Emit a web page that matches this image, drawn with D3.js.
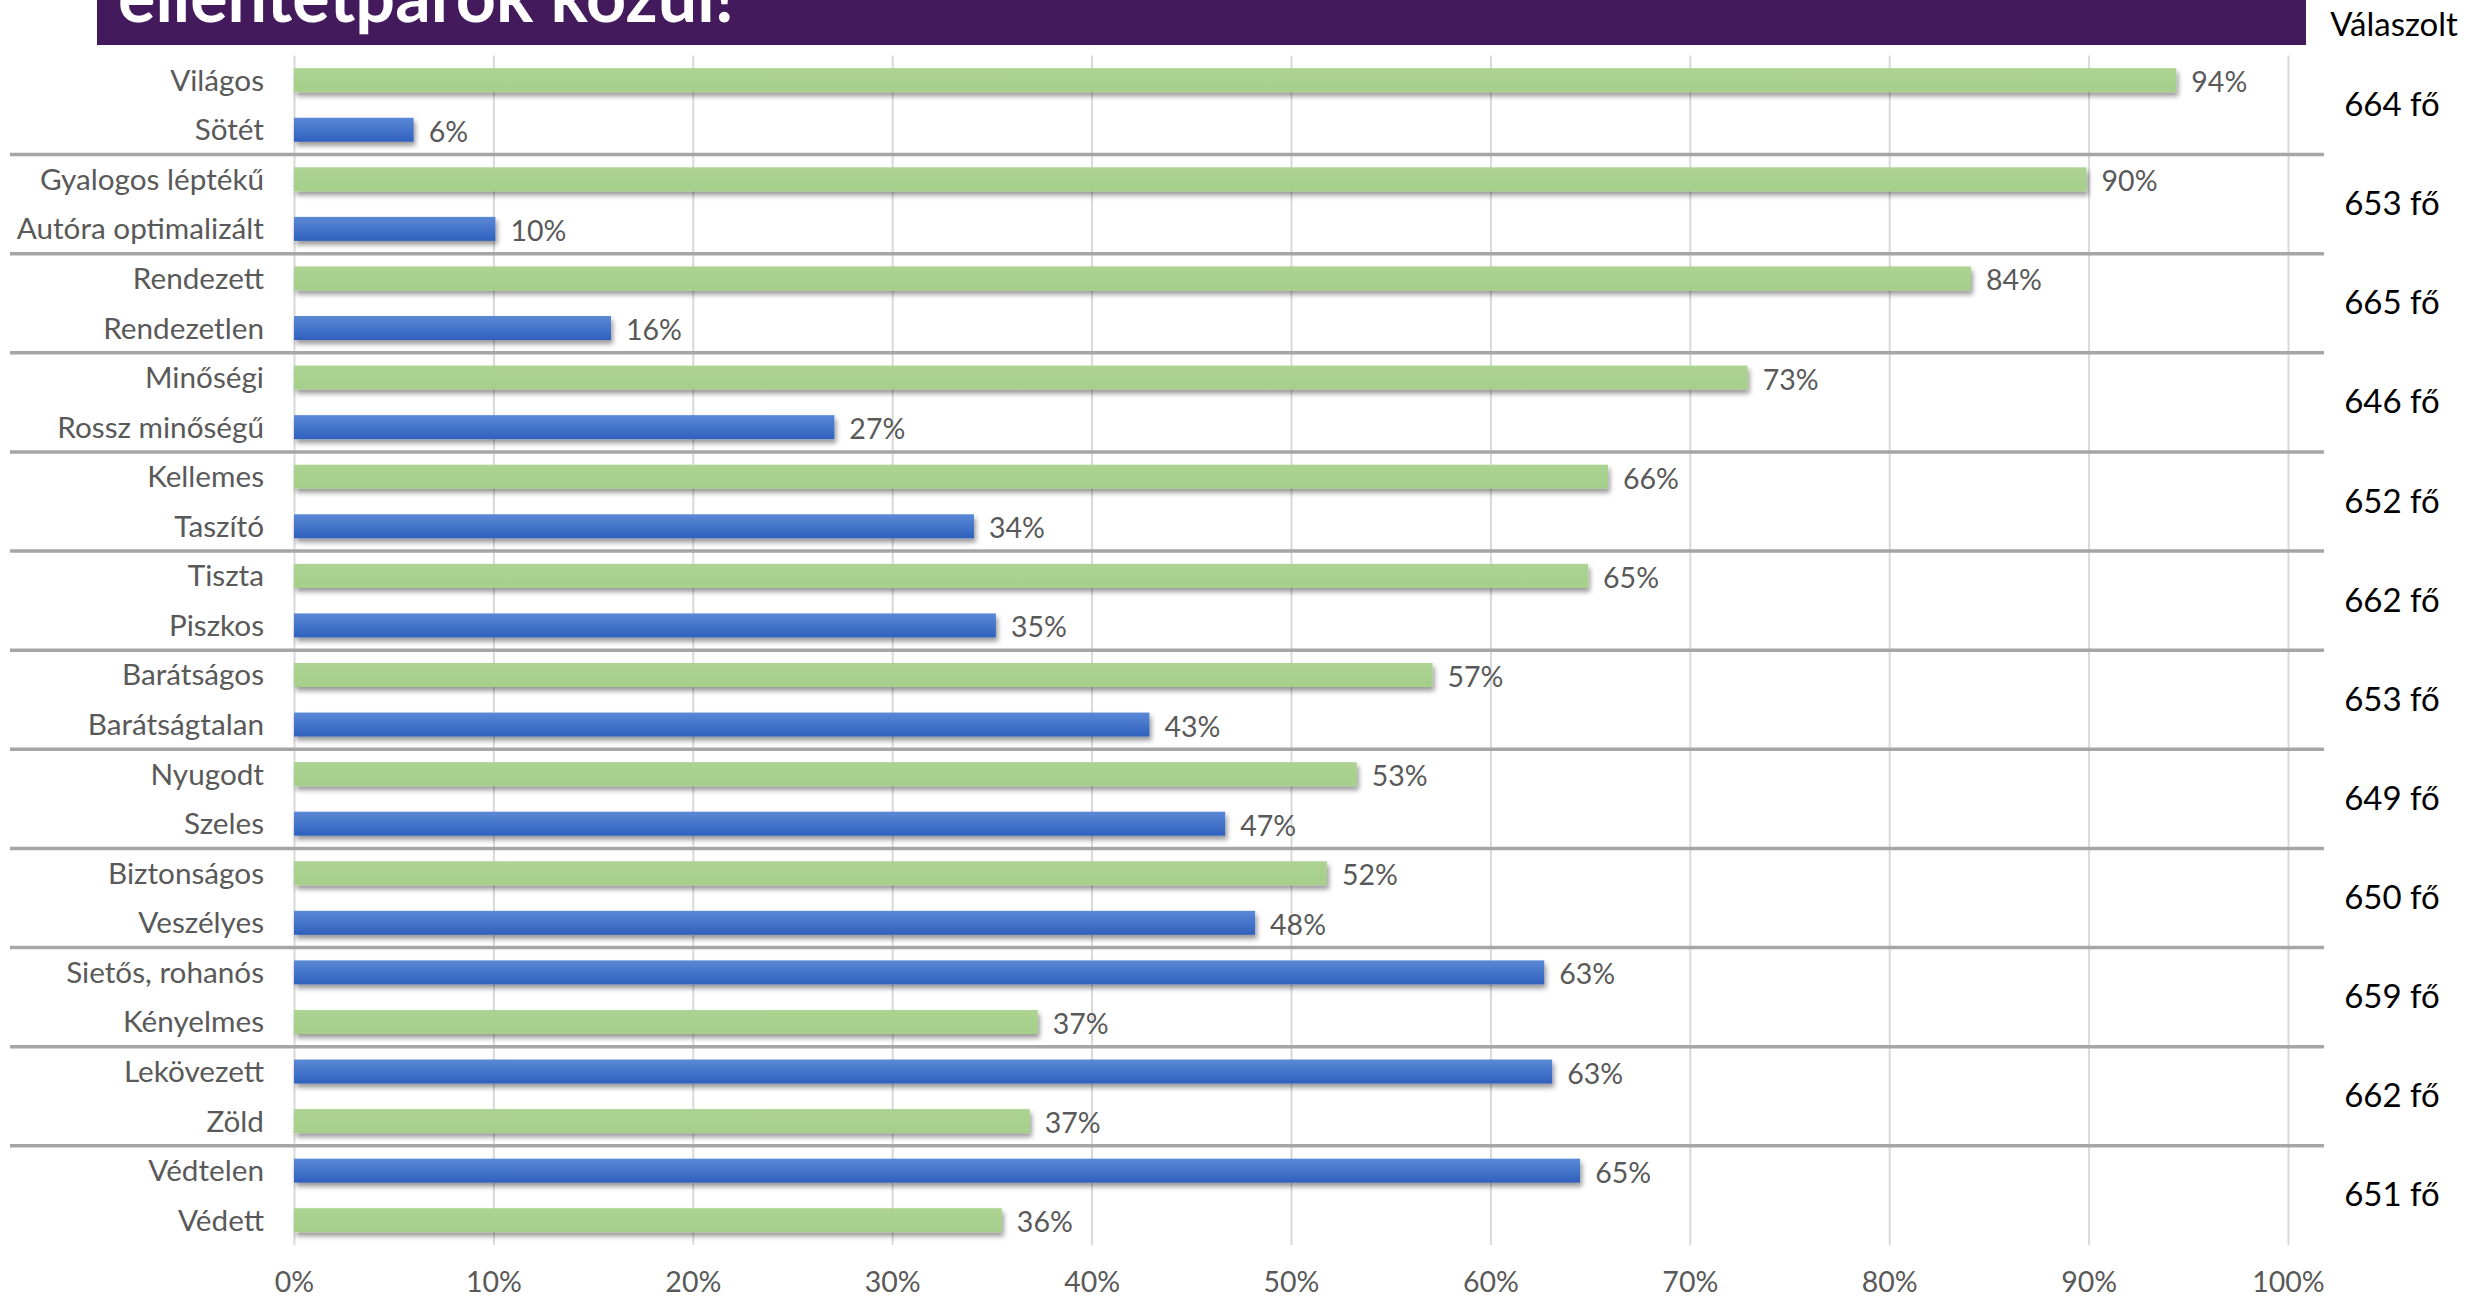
<!DOCTYPE html>
<html><head><meta charset="utf-8">
<script src="https://cdn.jsdelivr.net/npm/d3@7"></script>
<style>
html,body{margin:0;padding:0;background:#fff;}
svg{display:block;}
</style></head>
<body>
<script>
const titleText = "ellentétpárok közül!";
const respondentHeader = "Válaszolt";
const categories = ["Világos","Sötét","Gyalogos léptékű","Autóra optimalizált","Rendezett","Rendezetlen","Minőségi","Rossz minőségű","Kellemes","Taszító","Tiszta","Piszkos","Barátságos","Barátságtalan","Nyugodt","Szeles","Biztonságos","Veszélyes","Sietős, rohanós","Kényelmes","Lekövezett","Zöld","Védtelen","Védett"];
const values = [94.4,6.0,89.9,10.1,84.1,15.9,72.9,27.1,65.9,34.1,64.9,35.2,57.1,42.9,53.3,46.7,51.8,48.2,62.7,37.3,63.1,36.9,64.5,35.5];
const positive = [true,false,true,false,true,false,true,false,true,false,true,false,true,false,true,false,true,false,false,true,false,true,false,true];
const respondents = ["664 fő","653 fő","665 fő","646 fő","652 fő","662 fő","653 fő","649 fő","650 fő","659 fő","662 fő","651 fő"];
const xTicks = [0,10,20,30,40,50,60,70,80,90,100];

const W = 2466, H = 1300;
const svg = d3.select("body").append("svg").attr("width", W).attr("height", H);
const defs = svg.append("defs");
const gb = defs.append("linearGradient").attr("id","gBlue").attr("x1",0).attr("y1",0).attr("x2",0).attr("y2",1);
gb.append("stop").attr("offset","0%").attr("stop-color","#5b89d6");
gb.append("stop").attr("offset","100%").attr("stop-color","#2f60bd");
const gg = defs.append("linearGradient").attr("id","gGreen").attr("x1",0).attr("y1",0).attr("x2",0).attr("y2",1);
gg.append("stop").attr("offset","0%").attr("stop-color","#acd391");
gg.append("stop").attr("offset","100%").attr("stop-color","#a6cf8b");
const f = defs.append("filter").attr("id","shadow").attr("x","-5%").attr("y","-50%").attr("width","110%").attr("height","220%");
f.append("feDropShadow").attr("dx",2).attr("dy",4).attr("stdDeviation",2.5).attr("flood-color","#000").attr("flood-opacity",0.4);

const x = d3.scaleLinear().domain([0,100]).range([294,2288]);
const y = d3.scaleBand().domain(d3.range(categories.length)).range([55.4,1245]).paddingInner(0.516).paddingOuter(0.258);
const step = y.step();
const plotTop = 55.4, plotBottom = 1245;

// title banner
svg.append("rect").attr("x",97).attr("y",0).attr("width",2306-97).attr("height",45).attr("fill","#431b5d");
svg.append("text").attr("x",118).attr("y",22).attr("fill","#fff")
  .style("font-family","Lato").style("font-weight",700).style("font-size","70px")
  .text(titleText);

// gridlines
const grid = svg.append("g").attr("transform",`translate(0,${plotBottom})`)
  .call(d3.axisBottom(x).tickValues(xTicks).tickSize(-(plotBottom-plotTop)).tickFormat(""));
grid.select(".domain").remove();
grid.selectAll("line").attr("stroke","#d9d9d9").attr("stroke-width",2);

// x axis labels
const xa = svg.append("g").attr("transform",`translate(0,${plotBottom})`)
  .call(d3.axisBottom(x).tickValues(xTicks).tickSize(0).tickPadding(27).tickFormat(d=>d+"%"));
xa.select(".domain").remove();
xa.selectAll("text").attr("fill","#595959").style("font-family","Lato").style("font-size","28.5px");

// separators
const seps = d3.range(1, respondents.length);
svg.append("g").selectAll("line").data(seps).join("line")
  .attr("x1",10).attr("x2",2324)
  .attr("y1",d=>plotTop + d*2*step).attr("y2",d=>plotTop + d*2*step)
  .attr("stroke","#a6a6a6").attr("stroke-width",3.5);

// bars
svg.append("g").selectAll("rect").data(values).join("rect")
  .attr("x",x(0)).attr("y",(d,i)=>y(i)).attr("height",y.bandwidth())
  .attr("width",d=>x(d)-x(0))
  .attr("fill",(d,i)=>positive[i] ? "url(#gGreen)" : "url(#gBlue)")
  .attr("filter","url(#shadow)");

// value labels
svg.append("g").selectAll("text").data(values).join("text")
  .attr("x",d=>x(d)+15).attr("y",(d,i)=>y(i)+y.bandwidth()/2+1)
  .attr("dominant-baseline","central").attr("fill","#595959")
  .style("font-family","Lato").style("font-size","28.5px")
  .text(d=>Math.round(d)+"%");

// category axis
const ya = svg.append("g").attr("transform",`translate(${x(0)},1)`)
  .call(d3.axisLeft(y).tickSize(0).tickPadding(30).tickFormat(i=>categories[i]));
ya.select(".domain").remove();
ya.selectAll("text").attr("fill","#595959").style("font-family","Lato").style("font-size","29.7px");

// respondents
svg.append("text").attr("x",2394).attr("y",36).attr("text-anchor","middle").attr("fill","#000")
  .style("font-family","Lato").style("font-size","33px").text(respondentHeader);
svg.append("g").selectAll("text").data(respondents).join("text")
  .attr("x",2392).attr("y",(d,i)=>plotTop + (2*i+1)*step - 2)
  .attr("text-anchor","middle").attr("dominant-baseline","central").attr("fill","#000")
  .style("font-family","Lato").style("font-size","33px").text(d=>d);
</script>
</body></html>
